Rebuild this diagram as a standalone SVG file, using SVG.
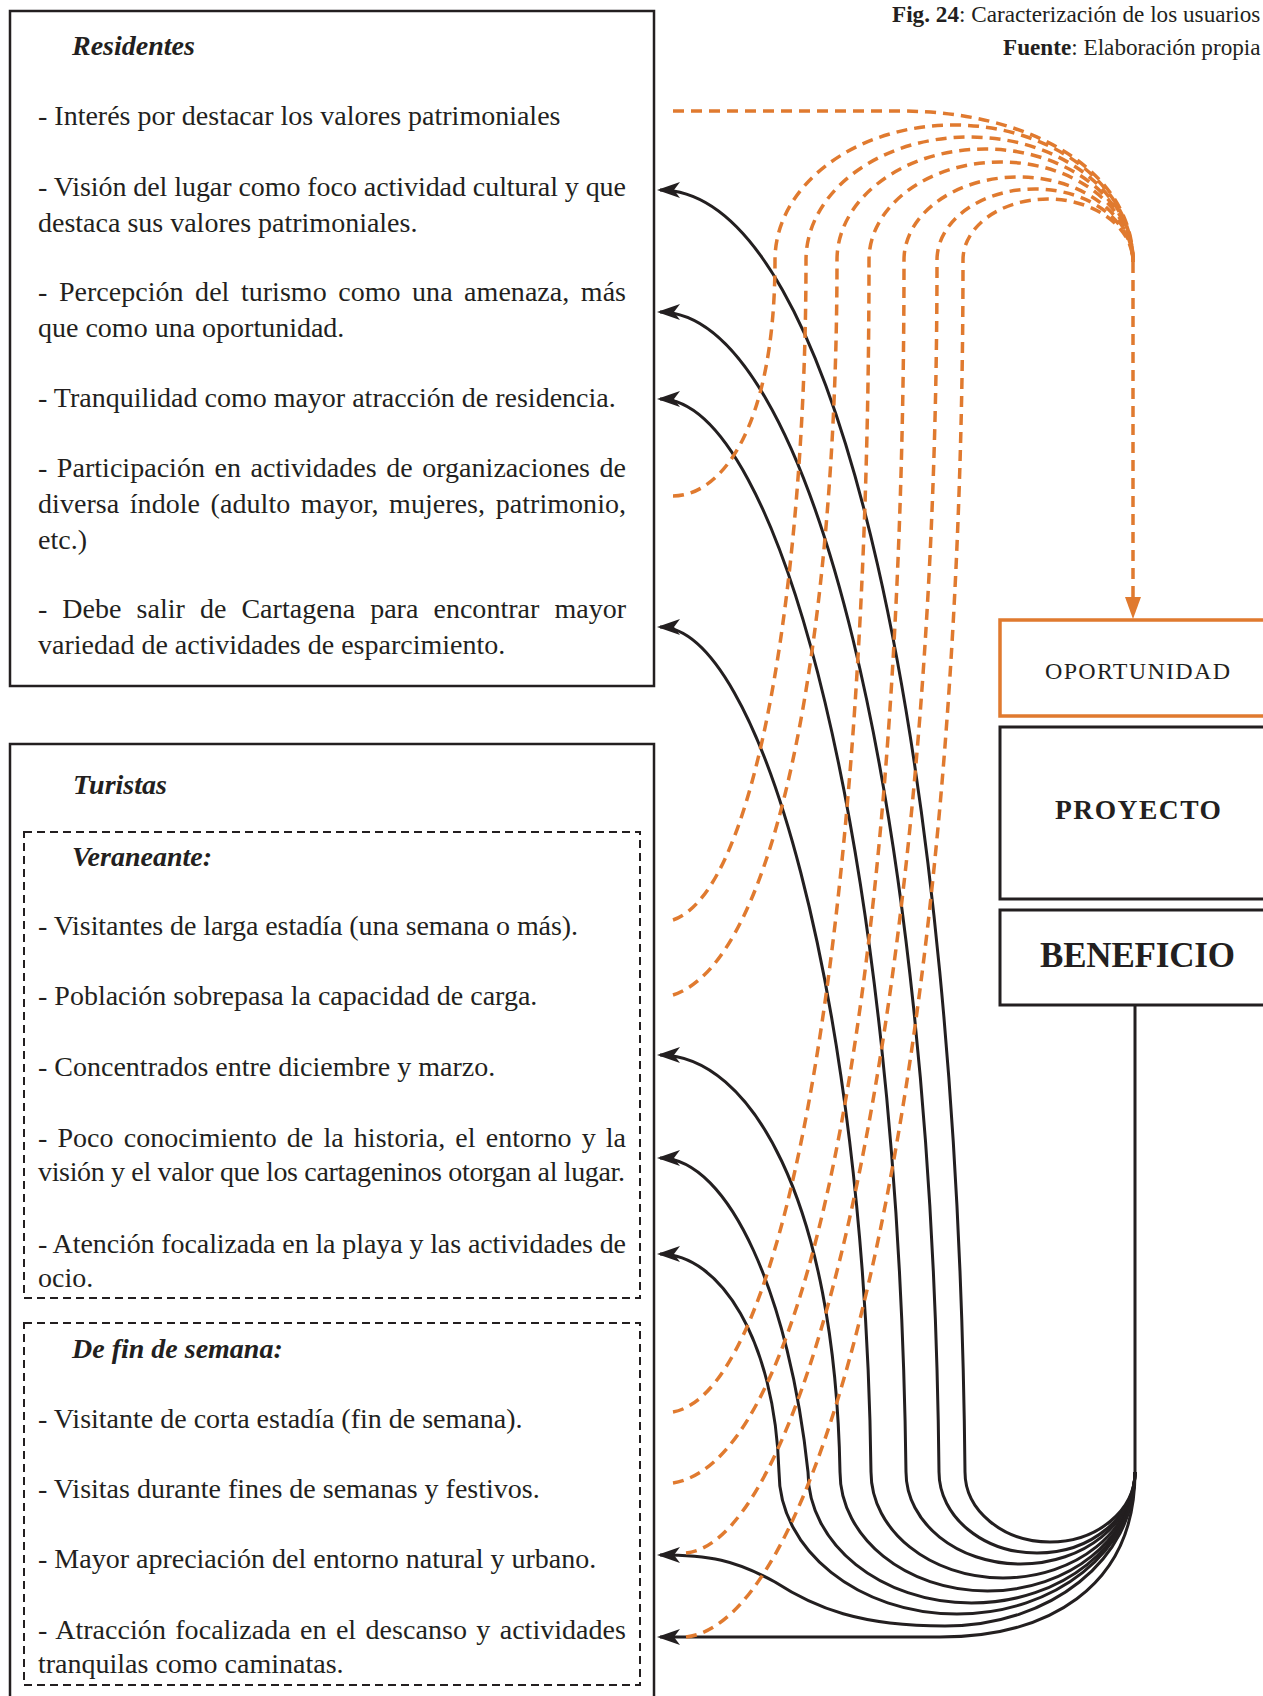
<svg xmlns="http://www.w3.org/2000/svg" width="1263" height="1696" viewBox="0 0 1263 1696">
<style>
.t{font-family:"Liberation Serif","Times New Roman",serif;font-size:28px;fill:#231f20}
.h{font-weight:bold;font-style:italic}
.cap{font-family:"Liberation Serif","Times New Roman",serif;font-size:23.2px;fill:#231f20}
.box{fill:none;stroke:#231f20;stroke-width:2.5}
.dbox{fill:none;stroke:#231f20;stroke-width:2;stroke-dasharray:8 5}
.rbox{fill:none;stroke:#231f20;stroke-width:3}
.obox{fill:none;stroke:#e07a2f;stroke-width:3.5}
.blk{fill:none;stroke:#231f20;stroke-width:3;marker-end:url(#ah)}
.org{fill:none;stroke:#e07a2f;stroke-width:3.5;stroke-dasharray:11 7}
</style>
<defs>
<marker id="ah" viewBox="0 0 24 18" refX="21" refY="9" markerWidth="24" markerHeight="18" markerUnits="userSpaceOnUse" orient="auto">
<path d="M24,9 L1,1 L7,9 L1,17 Z" fill="#231f20"/>
</marker>
</defs>
<rect width="1263" height="1696" fill="#fff"/>

<g id="caption">
<text class="cap" x="892" y="22"><tspan font-weight="bold">Fig. 24</tspan>: Caracterización de los usuarios</text>
<text class="cap" x="1003" y="55"><tspan font-weight="bold">Fuente</tspan>: Elaboración propia</text>
</g>

<g id="residentes">
<rect class="box" x="10" y="11" width="644" height="675"/>
<text class="t h" x="72" y="55">Residentes</text>
<text class="t" x="38" y="125">- Interés por destacar los valores patrimoniales</text>
<text class="t" x="38" y="196" textLength="588" lengthAdjust="spacing">- Visión del lugar como foco actividad cultural y que</text>
<text class="t" x="38" y="232">destaca sus valores patrimoniales.</text>
<text class="t" x="38" y="301" textLength="588" lengthAdjust="spacing" style="word-spacing:4.5px">- Percepción del turismo como una amenaza, más</text>
<text class="t" x="38" y="337">que como una oportunidad.</text>
<text class="t" x="38" y="407">- Tranquilidad como mayor atracción de residencia.</text>
<text class="t" x="38" y="477" textLength="588" lengthAdjust="spacing" style="word-spacing:2.5px">- Participación en actividades de organizaciones de</text>
<text class="t" x="38" y="513" textLength="588" lengthAdjust="spacing" style="word-spacing:3.5px">diversa índole (adulto mayor, mujeres, patrimonio,</text>
<text class="t" x="38" y="549">etc.)</text>
<text class="t" x="38" y="618" textLength="588" lengthAdjust="spacing" style="word-spacing:8px">- Debe salir de Cartagena para encontrar mayor</text>
<text class="t" x="38" y="654">variedad de actividades de esparcimiento.</text>
</g>

<g id="turistas">
<rect class="box" x="10" y="744" width="644" height="980"/>
<text class="t h" x="73" y="794">Turistas</text>
</g>

<g id="veraneante">
<rect class="dbox" x="24" y="832" width="616" height="466"/>
<text class="t h" x="72" y="866">Veraneante:</text>
<text class="t" x="38" y="935" textLength="540" lengthAdjust="spacing">- Visitantes de larga estadía (una semana o más).</text>
<text class="t" x="38" y="1005">- Población sobrepasa la capacidad de carga.</text>
<text class="t" x="38" y="1076">- Concentrados entre diciembre y marzo.</text>
<text class="t" x="38" y="1147" textLength="588" lengthAdjust="spacing" style="word-spacing:3px">- Poco conocimiento de la historia, el entorno y la</text>
<text class="t" x="38" y="1181" textLength="587" lengthAdjust="spacing">visión y el valor que los cartageninos otorgan al lugar.</text>
<text class="t" x="38" y="1253" textLength="588" lengthAdjust="spacing">- Atención focalizada en la playa y las actividades de</text>
<text class="t" x="38" y="1287">ocio.</text>
</g>

<g id="fin-de-semana">
<rect class="dbox" x="24" y="1323" width="616" height="362"/>
<text class="t h" x="72" y="1358">De fin de semana:</text>
<text class="t" x="38" y="1428">- Visitante de corta estadía (fin de semana).</text>
<text class="t" x="38" y="1498">- Visitas durante fines de semanas y festivos.</text>
<text class="t" x="38" y="1568">- Mayor apreciación del entorno natural y urbano.</text>
<text class="t" x="38" y="1639" textLength="588" lengthAdjust="spacing" style="word-spacing:2.3px">- Atracción focalizada en el descanso y actividades</text>
<text class="t" x="38" y="1673">tranquilas como caminatas.</text>
</g>

<g id="oportunidad">
<rect class="obox" x="1000" y="620" width="290" height="96"/>
<text class="t" x="1137.5" y="679" text-anchor="middle" style="font-size:24px" textLength="185" lengthAdjust="spacing">OPORTUNIDAD</text>
</g>
<g id="proyecto">
<rect class="rbox" x="1000" y="727" width="290" height="172"/>
<text class="t" x="1138" y="819" text-anchor="middle" style="font-size:27.5px;font-weight:bold" textLength="166" lengthAdjust="spacing">PROYECTO</text>
</g>
<g id="beneficio">
<rect class="rbox" x="1000" y="910" width="290" height="95"/>
<text class="t" x="1137.5" y="967" text-anchor="middle" style="font-size:35px;font-weight:bold" textLength="195" lengthAdjust="spacing">BENEFICIO</text>
</g>

<g id="connectors">
<path d="M1135 1005 V1473" fill="none" stroke="#231f20" stroke-width="3"/>
<path class="blk" d="M1135 1472 C1135 1510.6 1096.9 1542 1050 1542 C1003.1 1542 965 1510.6 965 1472 C958 760 840 190 660 190"/>
<path class="blk" d="M1135 1472 C1135 1516.7 1091.1 1553 1037 1553 C982.9 1553 939 1516.7 939 1472 C932 800 810 312 660 312"/>
<path class="blk" d="M1135 1472 C1135 1522.8 1083.7 1564 1020.5 1564 C957.3 1564 906 1522.8 906 1472 C898 850 780 399 660 399"/>
<path class="blk" d="M1135 1472 C1135 1530.5 1075.9 1578 1003 1578 C930.1 1578 871 1530.5 871 1472 C865 1000 760 627 660 627"/>
<path class="blk" d="M1135 1472 C1135 1537.7 1068.9 1591 987.5 1591 C906.1 1591 840 1537.7 840 1472 C835 1200 750 1055 660 1055"/>
<path class="blk" d="M1135 1472 C1135 1544.3 1061.8 1603 971.5 1603 C881.2 1603 808 1544.3 808 1472 C790 1300 730 1158 660 1158"/>
<path class="blk" d="M1135 1472 C1135 1550.4 1055.3 1614 957 1614 C858.7 1614 779 1550.4 779 1472 C775 1340 720 1254 660 1254"/>
<path class="blk" d="M1135 1472 C1135 1560 1050 1626 945 1626 C860 1626 815 1608 775 1582 C735 1560 710 1555 660 1555"/>
<path class="blk" d="M1135 1472 C1135 1590 1045 1637 940 1637 L660 1637"/>

<path class="org" d="M673 111 H900 C1030 111 1133 170 1133 262"/>
<path class="org" d="M673 496 C720 496 775 430 775 260 C775 185.5 855.2 125 954 125 C1052.8 125 1133 186.4 1133 262"/>
<path class="org" d="M673 920 C760 890 806 560 806 260 C806 192.1 879.2 137 969.5 137 C1059.8 137 1133 193 1133 262"/>
<path class="org" d="M673 995 C780 960 837 620 837 260 C837 198.7 903.3 149 985 149 C1066.7 149 1133 199.6 1133 262"/>
<path class="org" d="M673 1412 C790 1390 869 900 869 260 C869 205.9 928.1 162 1001 162 C1073.9 162 1133 206.8 1133 262"/>
<path class="org" d="M673 1483 C815 1460 904 950 904 260 C904 214.2 955.3 177 1018.5 177 C1081.7 177 1133 215.1 1133 262"/>
<path class="org" d="M686 1553 C810 1540 937 1000 937 260 C937 220.8 980.9 189 1035 189 C1089.1 189 1133 221.7 1133 262"/>
<path class="org" d="M686 1637 C830 1620 963 1050 963 260 C963 226.3 1001.1 199 1048 199 C1094.9 199 1133 227.2 1133 262"/>
<path class="org" d="M1133 262 V598"/>
<path d="M1125 597 L1141 597 L1133 619 Z" fill="#e07a2f"/>
</g>
</svg>
